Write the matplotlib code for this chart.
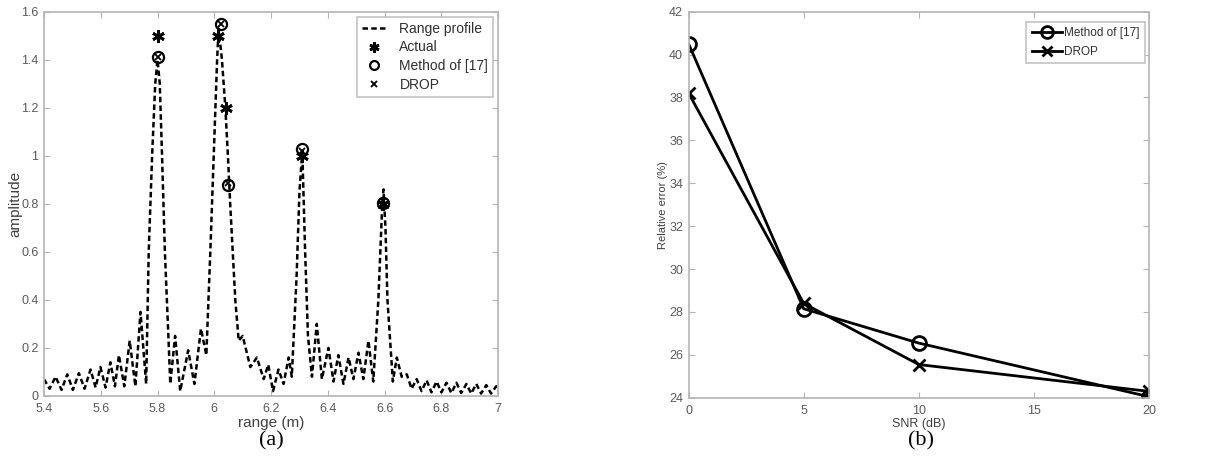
import matplotlib
matplotlib.use("Agg")
import matplotlib.pyplot as plt
from matplotlib.ticker import FuncFormatter

plt.rcParams["font.family"] = ["Liberation Sans", "DejaVu Sans"]

# Range profile vertices (range in m, amplitude)
profile_range = [
    5.400, 5.420, 5.441, 5.462, 5.482, 5.502, 5.523, 5.543, 5.564, 5.582,
    5.599, 5.617, 5.634, 5.650, 5.664, 5.683, 5.702, 5.722, 5.740, 5.760,
    5.769, 5.781, 5.792, 5.800, 5.808, 5.816, 5.826, 5.840, 5.845, 5.862,
    5.880, 5.908, 5.930, 5.953, 5.972, 5.986, 5.998, 6.010, 6.015, 6.027,
    6.039, 6.048, 6.056, 6.065, 6.074, 6.086, 6.100, 6.127, 6.150, 6.174,
    6.190, 6.207, 6.226, 6.244, 6.262, 6.273, 6.290, 6.300, 6.310, 6.320,
    6.330, 6.344, 6.361, 6.379, 6.402, 6.420, 6.437, 6.455, 6.473, 6.490,
    6.508, 6.525, 6.543, 6.560, 6.578, 6.590, 6.596, 6.603, 6.610, 6.629,
    6.643, 6.660, 6.678, 6.695, 6.713, 6.730, 6.748, 6.765, 6.783, 6.800,
    6.818, 6.835, 6.853, 6.870, 6.888, 6.905, 6.923, 6.940, 6.958, 6.975,
    6.993, 7.000,
]
profile_amp = [
    0.070, 0.030, 0.080, 0.025, 0.090, 0.025, 0.095, 0.030, 0.110, 0.035,
    0.120, 0.035, 0.140, 0.040, 0.170, 0.040, 0.230, 0.040, 0.350, 0.050,
    0.600, 1.000, 1.300, 1.400, 1.300, 1.000, 0.600, 0.200, 0.050, 0.250,
    0.020, 0.190, 0.050, 0.280, 0.170, 0.600, 1.000, 1.400, 1.530, 1.400,
    1.200, 1.000, 0.800, 0.600, 0.400, 0.230, 0.250, 0.120, 0.160, 0.070,
    0.130, 0.020, 0.110, 0.050, 0.160, 0.080, 0.500, 0.850, 1.020, 0.600,
    0.250, 0.080, 0.300, 0.070, 0.200, 0.060, 0.170, 0.050, 0.160, 0.070,
    0.180, 0.070, 0.230, 0.060, 0.400, 0.750, 0.860, 0.700, 0.400, 0.060,
    0.160, 0.080, 0.090, 0.030, 0.070, 0.020, 0.065, 0.015, 0.060, 0.015,
    0.055, 0.012, 0.055, 0.012, 0.050, 0.010, 0.050, 0.010, 0.045, 0.010,
    0.040, 0.020,
]

# Scatterer locations
actual_range = [5.800, 6.013, 6.040, 6.308, 6.595]
actual_amp = [1.50, 1.50, 1.20, 1.00, 0.80]
method17_range = [5.800, 6.022, 6.050, 6.310, 6.593]
method17_amp = [1.41, 1.55, 0.88, 1.03, 0.805]
drop_range = [5.800, 6.022, 6.050, 6.310, 6.593]
drop_amp = [1.41, 1.55, 0.885, 1.02, 0.81]

# Relative error against SNR
snr_db = [0, 5, 10, 20]
err_method17 = [40.5, 28.15, 26.55, 24.05]
err_drop = [38.2, 28.4, 25.55, 24.3]

spine_gray = "#b4b4b4"
tick_gray = "#5a5a5a"

fig = plt.figure(figsize=(12.21, 4.68), dpi=100)
ax1 = fig.add_axes([0.036, 0.154, 0.372, 0.821])
ax2 = fig.add_axes([0.564, 0.150, 0.377, 0.825])

asterisk = (6, 2, 0)

# (a) range profile with estimated scatterers
ax1.plot(profile_range, profile_amp, color="black", linestyle=(0, (2.2, 1.3)),
         linewidth=1.8, label="Range profile")
ax1.plot(actual_range, actual_amp, linestyle="none", marker=asterisk,
         markersize=9, markeredgewidth=2, color="black", label="Actual")
ax1.plot(method17_range, method17_amp, linestyle="none", marker="o",
         markersize=8, markerfacecolor="none", markeredgewidth=1.6,
         color="black", label="Method of [17]")
ax1.plot(drop_range, drop_amp, linestyle="none", marker="x", markersize=5,
         markeredgewidth=1.3, color="black", label="DROP")
ax1.set_xlim(5.4, 7)
ax1.set_ylim(0, 1.6)
ax1.set_xticks([5.4, 5.6, 5.8, 6.0, 6.2, 6.4, 6.6, 6.8, 7.0])
ax1.set_yticks([0, 0.2, 0.4, 0.6, 0.8, 1.0, 1.2, 1.4, 1.6])
ax1.xaxis.set_major_formatter(FuncFormatter(lambda v, p: "%g" % round(v, 2)))
ax1.yaxis.set_major_formatter(FuncFormatter(lambda v, p: "%g" % round(v, 2)))
ax1.set_xlabel("range (m)", fontsize=11, color="#404040", labelpad=1)
ax1.set_ylabel("amplitude", fontsize=11, color="#404040", labelpad=-1)
leg1 = ax1.legend(loc="upper right", fontsize=10, frameon=True, fancybox=False,
                  handlelength=1.8, handletextpad=0.9, borderpad=0.35,
                  labelspacing=0.35, markerscale=0.8, borderaxespad=0,
                  bbox_to_anchor=(0.989, 0.987))
leg1.get_frame().set_edgecolor(spine_gray)
leg1.get_frame().set_linewidth(1.2)
for t in leg1.get_texts():
    t.set_color("#303030")

# (b) relative error
ax2.plot(snr_db, err_method17, color="black", linewidth=2, marker="o",
         markersize=10, markerfacecolor="none", markeredgewidth=2,
         label="Method of [17]")
ax2.plot(snr_db, err_drop, color="black", linewidth=2, marker="x",
         markersize=8, markeredgewidth=2, label="DROP")
ax2.set_xlim(0, 20)
ax2.set_ylim(24, 42)
ax2.set_xticks([0, 5, 10, 15, 20])
ax2.set_yticks(range(24, 43, 2))
ax2.set_xlabel("SNR (dB)", fontsize=9, color="#404040", labelpad=1)
ax2.set_ylabel("Relative error (%)", fontsize=8, color="#404040", labelpad=1)
leg2 = ax2.legend(loc="upper right", fontsize=8.5, frameon=True, fancybox=False,
                  handlelength=2.6, handletextpad=0.15, borderpad=0.45,
                  labelspacing=0.6, markerscale=0.85, borderaxespad=0,
                  bbox_to_anchor=(0.991, 0.974))
leg2.get_frame().set_edgecolor(spine_gray)
leg2.get_frame().set_linewidth(1.2)
for t in leg2.get_texts():
    t.set_color("#303030")

for ax in (ax1, ax2):
    for s in ax.spines.values():
        s.set_color(spine_gray)
        s.set_linewidth(1.2)
    ax.tick_params(direction="in", top=True, right=True, length=4,
                   color=spine_gray, labelcolor=tick_gray, labelsize=9)
    ax.tick_params(axis="x", pad=5)
    ax.tick_params(axis="y", pad=4)

fig.text(0.222, 0.057, "(a)", ha="center", va="center", fontsize=16,
         family="Liberation Serif")
fig.text(0.754, 0.057, "(b)", ha="center", va="center", fontsize=16,
         family="Liberation Serif")

fig.savefig("out.png", dpi=100)
